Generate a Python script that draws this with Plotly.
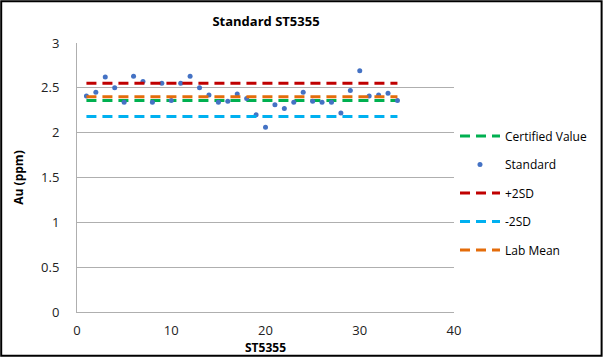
import plotly.graph_objects as go

sample_no = list(range(1, 35))
standard_au = [2.41, 2.45, 2.62, 2.50, 2.34, 2.63, 2.57, 2.34, 2.55, 2.36,
               2.55, 2.63, 2.50, 2.42, 2.34, 2.35, 2.43, 2.38, 2.20, 2.06,
               2.31, 2.27, 2.34, 2.45, 2.35, 2.34, 2.34, 2.22, 2.47, 2.69,
               2.41, 2.42, 2.44, 2.36]
certified_value = 2.36
plus_2sd = 2.55
minus_2sd = 2.18
lab_mean = 2.40

x_ticks = [0, 10, 20, 30, 40]
y_ticks = [0, 0.5, 1, 1.5, 2, 2.5, 3]

W, H = 604, 359
L, R, T, B = 77, 149, 43, 45
font = "Open Sans, Liberation Sans, sans-serif"
dash = "10px,6px"

fig = go.Figure()
def hline(name, val, color, grp):
    fig.add_trace(go.Scatter(x=sample_no, y=[val] * len(sample_no), mode="lines",
                             name=name, legendgroup=grp,
                             line=dict(color=color, width=3, dash=dash)))

hline("Certified Value", certified_value, "#00B050", "a")
fig.add_trace(go.Scatter(x=sample_no, y=standard_au, mode="markers", name="Standard",
                         legendgroup="b",
                         marker=dict(color="#4472C4", size=5)))
hline("+2SD", plus_2sd, "#C00000", "c")
hline("-2SD", minus_2sd, "#00B0F0", "d")
hline("Lab Mean", lab_mean, "#E46C0A", "e")

pw = W - L - R
ph = H - T - B
def px2x(p):
    return (p - L) / pw
def py2y(p):
    return (H - B - p) / ph

fig.add_shape(type="rect", xref="paper", yref="paper",
              x0=px2x(1), x1=px2x(W - 1), y0=py2y(H - 1), y1=py2y(1),
              line=dict(color="black", width=2), layer="above")

fig.update_layout(
    width=W, height=H,
    margin=dict(l=L, r=R, t=T, b=B, pad=0),
    paper_bgcolor="white", plot_bgcolor="white",
    font=dict(family=font, size=13, color="#222222"),
    title=dict(text="<b>Standard ST5355</b>", x=(L + pw / 2) / W, xanchor="center",
               y=1 - 21 / H, yanchor="middle", font=dict(size=13, color="black")),
    showlegend=True,
    legend=dict(x=px2x(456), xanchor="left", y=py2y(122), yanchor="top",
                font=dict(size=12, color="black"), tracegroupgap=9.5,
                bgcolor="rgba(0,0,0,0)", itemwidth=40),
    xaxis=dict(range=[0, 40], tickvals=x_ticks, showgrid=False, zeroline=False,
               showline=True, linecolor="#AFAFAF", linewidth=1, ticks="",
               ticklabelstandoff=6,
               tickfont=dict(size=13, color="#222222"),
               title=dict(text="<b>ST5355</b>", standoff=0, font=dict(size=12, color="black"))),
    yaxis=dict(range=[0, 3], tickvals=y_ticks, showgrid=True, gridcolor="#AFAFAF",
               gridwidth=1, zeroline=False, showline=True, linecolor="#AFAFAF",
               linewidth=1, ticks="", ticklabelstandoff=14,
               tickfont=dict(size=13, color="#222222"),
               title=dict(text="<b>Au (ppm)</b>", standoff=14, font=dict(size=12, color="black"))),
)

fig.write_html("out.html", config={"displayModeBar": False})
with open("out.html", "r", encoding="utf-8") as f:
    html = f.read()
html = html.replace("<head>", "<head><style>html,body{margin:0;padding:0;overflow:hidden}</style>", 1)
with open("out.html", "w", encoding="utf-8") as f:
    f.write(html)
